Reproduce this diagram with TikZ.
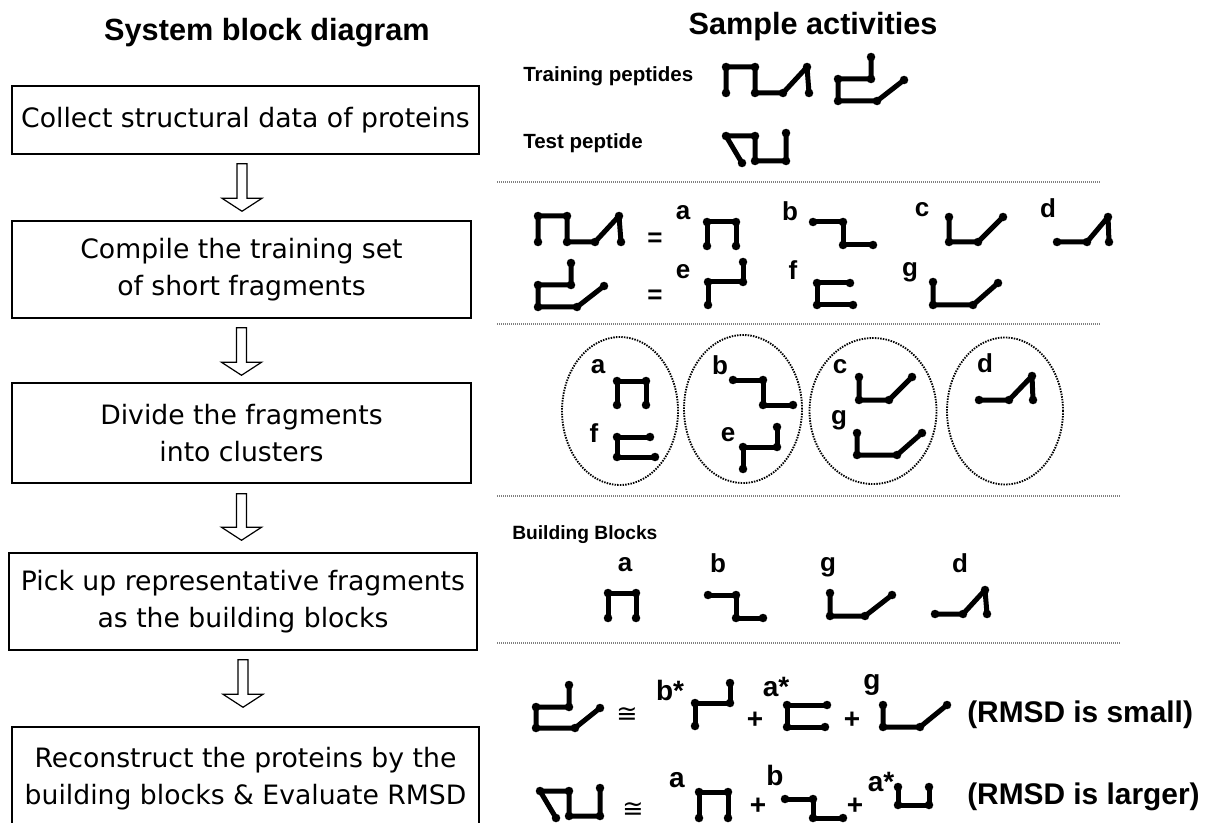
\documentclass[tikz,border=0pt]{standalone}
\usepackage{fontspec}
\setmainfont{Liberation Sans}
\newfontfamily\boxfont{DejaVu Sans}
\usetikzlibrary{shapes.geometric,calc}
\newcommand\frg[1]{\draw[frag] plot coordinates {#1};}
\newcommand\harr[5]{%
  \coordinate (#1top) at ($(#1.south)+(#5,#3)$);
  \coordinate (#1tip) at ($(#2.north)+(0,-#4)$);
  \draw[harrow] let \p1=(#1top), \p2=(#1tip) in
   (\x1-3.75pt,\y1) -- (\x1+3.75pt,\y1) -- (\x1+3.75pt,\y2+9.75pt) -- (\x1+15pt,\y2+9.75pt)
   -- (\x1,\y2) -- (\x1-15pt,\y2+9.75pt) -- (\x1-3.75pt,\y2+9.75pt) -- cycle;
}
\begin{document}
\begin{tikzpicture}[x=0.75pt,y=-0.75pt,
  frag/.style={line width=3.75pt, line cap=round, line join=round, mark=*, mark size=3.1pt, mark options={solid, line width=0.1pt}},
  head/.style={font=\bfseries\fontsize{23}{26}\selectfont, inner sep=0pt},
  box/.style={draw, line width=1.1pt, align=center, font=\boxfont\fontsize{20}{27.75}\selectfont, inner sep=0pt},
  harrow/.style={draw, line width=0.9pt, fill=white, line join=miter},
  sep/.style={draw=gray, line width=0.8pt, dash pattern=on 0.8pt off 0.7pt},
  clus/.style={ellipse, draw, line width=1.4pt, dash pattern=on 1.1pt off 0.9pt, inner sep=0pt},
  lab/.style={font=\bfseries\fontsize{19.5}{20}\selectfont, inner sep=0pt},
  labb/.style={font=\bfseries\fontsize{21}{22}\selectfont, inner sep=0pt},
  small/.style={font=\bfseries\fontsize{15.4}{17}\selectfont, inner sep=0pt, anchor=west},
  rmsd/.style={font=\bfseries\fontsize{22.4}{24}\selectfont, inner sep=0pt, anchor=west},
  cong/.style={font=\boxfont\fontsize{19}{19}\selectfont, inner sep=0pt}]
\clip (0,0) rectangle (1205,823);
\fill[white] (0,0) rectangle (1205,823);

% headings
\node[head] (h1) at (267,33) {System block diagram};
\node[head] (h2) at (813,27) {Sample activities};

% left flow boxes
\node[box, minimum width=467*0.75pt, minimum height=68*0.75pt] (b1) at (245.5,120) {Collect structural data of proteins};
\node[box, minimum width=459*0.75pt, minimum height=97*0.75pt] (b2) at (241.5,269.5) {Compile the training set\\of short fragments};
\node[box, minimum width=459*0.75pt, minimum height=100*0.75pt] (b3) at (241.5,433) {Divide the fragments\\into clusters};
\node[box, minimum width=468*0.75pt, minimum height=97*0.75pt] (b4) at (243,601.5) {Pick up representative fragments\\as the building blocks};
\node[box, minimum width=467*0.75pt, minimum height=103*0.75pt] (b5) at (245.5,778.5) {Reconstruct the proteins by the\\building blocks \& Evaluate RMSD};

\harr{b1}{b2}{9}{9}{-3.5}
\harr{b2}{b3}{9}{7}{0}
\harr{b3}{b4}{10}{12}{0}
\harr{b4}{b5}{9}{19}{0}

% separators
\coordinate (s1a) at (497,182); \coordinate (s1b) at (1100,182);
\coordinate (s2a) at (497,324); \coordinate (s2b) at (1100,324);
\coordinate (s3a) at (497,496); \coordinate (s3b) at (1120,496);
\coordinate (s4a) at (497,643); \coordinate (s4b) at (1120,643);
\draw[sep] (s1a) -- (s1b);
\draw[sep] (s2a) -- (s2b);
\draw[sep] (s3a) -- (s3b);
\draw[sep] (s4a) -- (s4b);

% row 1
\node[small] (tr) at (523,76) {Training peptides};
\node[small] (te) at (523,143) {Test peptide};
\begin{scope}[shift={(726,67)}]\frg{(0,26) (0,0) (29,0) (29,26) (57,26) (81,0) (83,26)}\end{scope}
\begin{scope}[shift={(838,57)}]\frg{(33,0) (33,22) (0,22) (0,44) (39,44) (66,23)}\end{scope}
\begin{scope}[shift={(726,133)}]\frg{(16,30) (0,3) (29,3) (29,28) (60,28) (60,0)}\end{scope}

% row 2
\begin{scope}[shift={(538,216)}]\frg{(0,26) (0,0) (29,0) (29,26) (57,26) (81,0) (83,26)}\end{scope}
\begin{scope}[shift={(538,263)}]\frg{(33,0) (33,22) (0,22) (0,44) (39,44) (66,23)}\end{scope}
\node[lab] (eq1) at (655,240) {=};
\node[lab] (eq2) at (655,297) {=};
\node[lab] (la2) at (683,213) {a};
\node[lab] (lb2) at (790,211) {b};
\node[lab] (lc2) at (922,210) {c};
\node[lab] (ld2) at (1048,208) {d};
\node[lab] (le2) at (683,272) {e};
\node[lab] (lf2) at (793,270) {f};
\node[lab] (lg2) at (910,272) {g};
\frg{(707,246) (707,222) (736,222) (736,246)}
\frg{(813,222) (843,222) (843,245) (873,245)}
\frg{(949,217) (949,242) (978,242) (1003,217)}
\frg{(1057,242) (1087,242) (1108,217) (1109,242)}
\frg{(708,305) (708,282) (743,282) (743,262)}
\frg{(850,283) (817,283) (817,305) (853,305)}
\frg{(933,282) (933,305) (973,305) (998,283)}

% row 3 clusters
\node[clus, minimum width=116*0.75pt, minimum height=148*0.75pt] (cl1) at (620,411) {};
\node[clus, minimum width=118*0.75pt, minimum height=148*0.75pt] (cl2) at (743,409) {};
\node[clus, minimum width=127*0.75pt, minimum height=146*0.75pt] (cl3) at (873,411) {};
\node[clus, minimum width=116*0.75pt, minimum height=147*0.75pt] (cl4) at (1005,411) {};
\node[lab] (la3) at (598,367) {a};
\node[lab] (lf3) at (594,433) {f};
\node[lab] (lb3) at (720,365) {b};
\node[lab] (le3) at (728,435) {e};
\node[lab] (lc3) at (840,367) {c};
\node[lab] (lg3) at (839,420) {g};
\node[lab] (ld3) at (985,363) {d};
\frg{(617,405) (617,381) (646,381) (646,405)}
\frg{(650,437) (617,437) (617,457) (655,457)}
\frg{(733,380) (763,380) (763,405) (793,405)}
\frg{(743,469) (743,447) (777,447) (777,427)}
\frg{(859,377) (859,400) (889,400) (912,377)}
\frg{(857,433) (857,455) (897,455) (922,433)}
\frg{(979,400) (1009,400) (1032,376) (1033,400)}

% row 4 building blocks
\node[small, font=\bfseries\fontsize{14.4}{16}\selectfont] (bb) at (512,535) {Building Blocks};
\node[lab] (la4) at (625,565) {a};
\node[lab] (lb4) at (718,563) {b};
\node[lab] (lg4) at (828,567) {g};
\node[lab] (ld4) at (960,563) {d};
\frg{(608,618) (608,593) (636,593) (636,618)}
\frg{(708,595) (736,595) (736,618) (763,618)}
\frg{(830,593) (830,616) (865,616) (892,595)}
\frg{(935,614) (963,614) (985,590) (987,614)}

% row 5
\begin{scope}[shift={(536,685)}]\frg{(33,0) (33,22) (0,22) (0,43) (39,43) (64,23)}\end{scope}
\node[cong] (cg1) at (627,715) {≅};
\node[labb] (lb5) at (670,690) {b*};
\node[labb] (pl1) at (755,720) {+};
\node[labb] (la5) at (776,687) {a*};
\node[labb] (pl2) at (852,720) {+};
\node[labb] (lg5) at (872,685) {g};
\frg{(695,726) (695,703) (730,703) (730,683)}
\frg{(827,705) (787,705) (787,727) (825,727)}
\frg{(883,705) (883,727) (920,727) (947,705)}
\node[rmsd] (r1) at (967,715) {(RMSD is small)};

% row 6
\begin{scope}[shift={(540,788)}]\frg{(16,30) (0,3) (29,3) (29,28) (60,28) (60,0)}\end{scope}
\node[cong] (cg2) at (633,810) {≅};
\node[labb] (la6) at (677,780) {a};
\node[labb] (pl3) at (758,806) {+};
\node[labb] (lb6) at (775,775) {b};
\node[labb] (pl4) at (855,806) {+};
\node[labb] (las6) at (881,782) {a*};
\frg{(699,818) (699,792) (728,792) (728,818)}
\frg{(785,799) (813,799) (813,818) (843,818)}
\frg{(898,787) (898,805) (929,805) (929,787)}
\node[rmsd] (r2) at (967,797) {(RMSD is larger)};
\end{tikzpicture}
\end{document}
